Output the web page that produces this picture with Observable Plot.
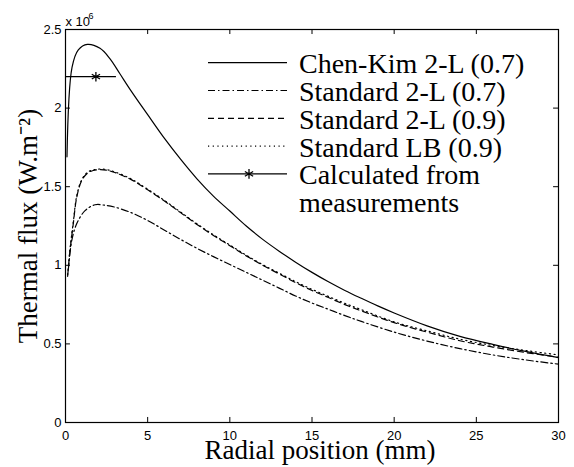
<!DOCTYPE html>
<html><head><meta charset="utf-8">
<script src="https://cdn.jsdelivr.net/npm/d3@7"></script>
<script src="https://cdn.jsdelivr.net/npm/@observablehq/plot@0.6"></script>
<style>
body{margin:0;background:#fff;}
#wrap{position:relative;width:574px;height:467px;}
#wrap svg{display:block;}
.serif{font-family:"Liberation Serif","Times New Roman",serif !important;}
</style></head><body><div id="wrap"></div>
<script>
// Values in units of 10^6 W.m-2, x in mm
const xTicks = [0, 5, 10, 15, 20, 25, 30];
const yTicks = [0, 0.5, 1, 1.5, 2, 2.5];

const chenX = [0.09, 0.4, 0.78, 1.33, 2.1, 2.7, 3.3, 4, 5, 6, 7, 8, 9, 10, 11, 12, 13, 14, 15, 16, 17, 18, 19, 20, 22, 24, 26, 28, 30];
const chenY = [1.69, 2.26, 2.37, 2.405, 2.38, 2.315, 2.22, 2.108, 1.958, 1.81, 1.675, 1.55, 1.44, 1.345, 1.25, 1.165, 1.09, 1.02, 0.955, 0.895, 0.84, 0.79, 0.742, 0.697, 0.615, 0.548, 0.497, 0.452, 0.413];

const std07X = [0.17, 0.38, 0.68, 1.19, 1.8, 2.4, 3, 4, 5, 6, 7, 8, 9, 10, 11, 12, 13, 14, 15, 16, 17, 18, 20, 22, 24, 26, 28, 30];
const std07Y = [0.97, 1.157, 1.264, 1.348, 1.385, 1.382, 1.37, 1.335, 1.285, 1.225, 1.165, 1.108, 1.055, 1.005, 0.955, 0.905, 0.855, 0.805, 0.76, 0.72, 0.68, 0.643, 0.575, 0.518, 0.47, 0.43, 0.398, 0.371];

const std09X = [0.13, 0.27, 0.48, 0.68, 0.99, 1.39, 2.0, 2.5, 3, 4, 5, 6, 7, 8, 9, 10, 11, 12, 13, 14, 15, 16, 17, 18, 20, 22, 24, 26, 28, 30];
const std09Y = [0.93, 1.09, 1.27, 1.43, 1.54, 1.59, 1.608, 1.605, 1.59, 1.545, 1.48, 1.41, 1.335, 1.26, 1.19, 1.125, 1.06, 1.0, 0.945, 0.89, 0.84, 0.795, 0.75, 0.71, 0.635, 0.575, 0.52, 0.48, 0.445, 0.415];

const lb09X = [0.13, 0.27, 0.48, 0.68, 0.99, 1.39, 2.0, 2.5, 3, 4, 5, 6, 7, 8, 9, 10, 11, 12, 13, 14, 15, 16, 17, 18, 20, 22, 24, 26, 28, 30];
const lb09Y = [0.94, 1.10, 1.28, 1.44, 1.545, 1.595, 1.612, 1.609, 1.594, 1.549, 1.484, 1.414, 1.339, 1.264, 1.194, 1.129, 1.064, 1.004, 0.95, 0.896, 0.847, 0.802, 0.758, 0.718, 0.64, 0.583, 0.53, 0.49, 0.458, 0.43];

const measX = [1.85];
const measY = [2.2];
const measX1 = [0];
const measX2 = [3.1];

const legendNames = ["Chen-Kim 2-L (0.7)", "Standard 2-L (0.7)", "Standard 2-L (0.9)", "Standard LB (0.9)", "Calculated from", "measurements"];
const legendDash = [null, "7,3,1.5,3", "6,4", "1.2,3.5", null];

const rows = (xs, ys) => xs.map((x, i) => ({x, y: ys[i]}));
const meas = measX.map((x, i) => ({x, y: measY[i], x1: measX1[i], x2: measX2[i]}));

const serif = '"Liberation Serif", "Times New Roman", serif';
const lineOpts = {x: "x", y: "y", curve: "catmull-rom", stroke: "black", strokeWidth: 1.2};

const plot = Plot.plot({
  width: 574, height: 467,
  marginLeft: 65, marginRight: 16, marginTop: 29, marginBottom: 45,
  style: {fontFamily: '"Liberation Sans", Arial, sans-serif', fontSize: "13px", background: "white", color: "black"},
  x: {domain: [0, 30]},
  y: {domain: [0, 2.5]},
  marks: [
    Plot.axisX({ticks: xTicks, tickSize: 0, tickPadding: 8, label: null, fontSize: 13}),
    Plot.axisY({ticks: yTicks, tickSize: 0, tickPadding: 4, label: null, fontSize: 13, tickFormat: d => String(d)}),
    Plot.ruleX(xTicks, {x: d => d, y1: 0, y2: 0.032, stroke: "black"}),
    Plot.ruleX(xTicks, {x: d => d, y1: 2.5, y2: 2.468, stroke: "black"}),
    Plot.ruleY(yTicks, {y: d => d, x1: 0, x2: 0.3, stroke: "black"}),
    Plot.ruleY(yTicks, {y: d => d, x1: 30, x2: 29.7, stroke: "black"}),
    Plot.line(rows(chenX, chenY), lineOpts),
    Plot.line(rows(std07X, std07Y), {...lineOpts, strokeDasharray: legendDash[1]}),
    Plot.line(rows(std09X, std09Y), {...lineOpts, strokeDasharray: legendDash[2]}),
    Plot.line(rows(lb09X, lb09Y), {...lineOpts, strokeDasharray: legendDash[3]}),
    Plot.ruleY(meas, {y: "y", x1: "x1", x2: "x2", stroke: "black", strokeWidth: 1.2}),
    Plot.dot(meas, {x: "x", y: "y", symbol: "asterisk", r: 4.5, stroke: "black", strokeWidth: 1.3}),
    Plot.frame({stroke: "black", strokeWidth: 1.2}),
    Plot.text(["x 10"], {frameAnchor: "top-left", textAnchor: "start", lineAnchor: "middle", dy: -8, fontSize: 13}),
    Plot.text(["6"], {frameAnchor: "top-left", textAnchor: "start", lineAnchor: "middle", dx: 23, dy: -13, fontSize: 9}),
    Plot.text(["Radial position (mm)"], {frameAnchor: "bottom", textAnchor: "middle", lineAnchor: "middle", dy: 28, dx: 8, fontSize: 27, className: "serif"}),
    Plot.text(["Thermal flux (W.m\u207B\u00B2)"], {frameAnchor: "left", textAnchor: "middle", lineAnchor: "middle", rotate: -90, dx: -37, dy: 0, fontSize: 27, className: "serif"})
  ]
});

const wrap = document.getElementById("wrap");
wrap.append(plot);

// Legend overlay
const lg = d3.select(wrap).append("svg")
  .attr("width", 574).attr("height", 467)
  .style("position", "absolute").style("left", "0px").style("top", "0px");
const sx0 = 208, sx1 = 287, tx = 299, row0 = 62.7, pitch = 27.8;
legendDash.forEach((dash, i) => {
  const y = row0 + pitch * i;
  const ln = lg.append("line").attr("x1", sx0).attr("x2", sx1).attr("y1", y).attr("y2", y)
    .attr("stroke", "black").attr("stroke-width", 1.2);
  if (dash) ln.attr("stroke-dasharray", dash);
  if (i === 4) {
    const sym = d3.symbol(d3.symbolAsterisk, 64)();
    lg.append("path").attr("d", sym).attr("transform", `translate(249,${y})`)
      .attr("stroke", "black").attr("stroke-width", 1.3).attr("fill", "none");
  }
});
legendNames.forEach((name, i) => {
  lg.append("text").attr("x", tx).attr("y", row0 + pitch * i + 10.5)
    .attr("class", "serif").style("font-family", serif).style("font-size", "28px").attr("fill", "black")
    .text(name);
});
</script>
</body></html>
